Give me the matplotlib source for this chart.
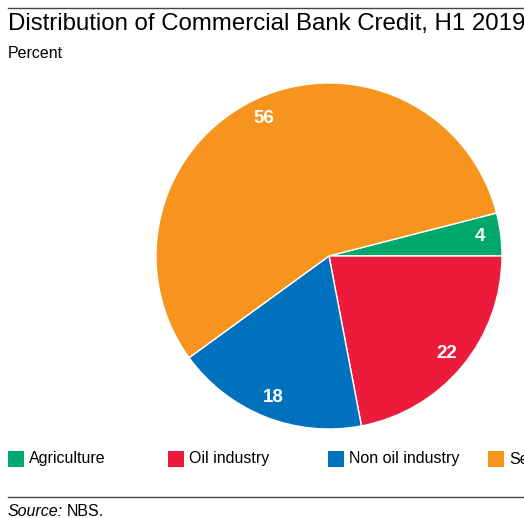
#!/usr/bin/env python3
"""
Distribution of commercial bank credit pie chart
"""
import matplotlib
matplotlib.use('Agg')
import matplotlib.pyplot as plt
from matplotlib.patches import Rectangle
from matplotlib.lines import Line2D

plt.rcParams['font.family'] = ['Liberation Sans', 'DejaVu Sans']

# 数据
sectors = ['Agriculture', 'Oil industry', 'Non oil industry', 'Services']
shares = [4, 22, 18, 56]
colors = ['#00A86B', '#ED1B3B', '#0071BC', '#F7941E']

W, H = 524, 518
fig = plt.figure(figsize=(W / 100, H / 100), dpi=100)

# 饼图 (center ~ (329, 256) px, radius ~173 px)
cx, cy, r = 329, 256, 173
ax = fig.add_axes([(cx - r) / W, (H - cy - r) / H, 2 * r / W, 2 * r / H])
wedges, texts = ax.pie(shares, colors=colors, startangle=14.4, counterclock=False,
                       labels=[str(v) for v in shares], labeldistance=0.88,
                       wedgeprops=dict(edgecolor='white', linewidth=1),
                       textprops=dict(color='white', fontweight='bold', fontsize=13.5))
for t in texts:
    t.set_ha('center')
    t.set_va('center')
ax.set_xlim(-1, 1)
ax.set_ylim(-1, 1)
ax.set_aspect('equal')

# 标题
fig.add_artist(Line2D([8 / W, 1], [1 - 8 / H, 1 - 8 / H], color='#444444', linewidth=1))
fig.text(8 / W, 1 - 24 / H, 'Distribution of Commercial Bank Credit, H1 2019',
         fontsize=17.3, va='center', ha='left')
fig.text(8 / W, 1 - 53 / H, 'Percent', fontsize=11.5, va='center', ha='left')

# 图例
for i, (name, c) in enumerate(zip(sectors, colors)):
    x0 = 8 + 160 * i
    fig.add_artist(Rectangle((x0 / W, 1 - 467 / H), 16 / W, 16 / H,
                             facecolor=c, edgecolor='none', transform=fig.transFigure))
    fig.text((x0 + 21) / W, 1 - 459 / H, name, fontsize=11.5, va='center', ha='left')

# 来源
fig.add_artist(Line2D([8 / W, 1], [1 - 497 / H, 1 - 497 / H], color='#444444', linewidth=1))
src = fig.text(8 / W, 1 - 511 / H, 'Source:', fontsize=11.5, style='italic',
               va='center', ha='left')
renderer = fig.canvas.get_renderer()
bb = src.get_window_extent(renderer)
fig.text((bb.x1 + 4) / W, 1 - 511 / H, 'NBS.', fontsize=11.5, va='center', ha='left')

plt.savefig('out.png', dpi=100)
plt.close()
